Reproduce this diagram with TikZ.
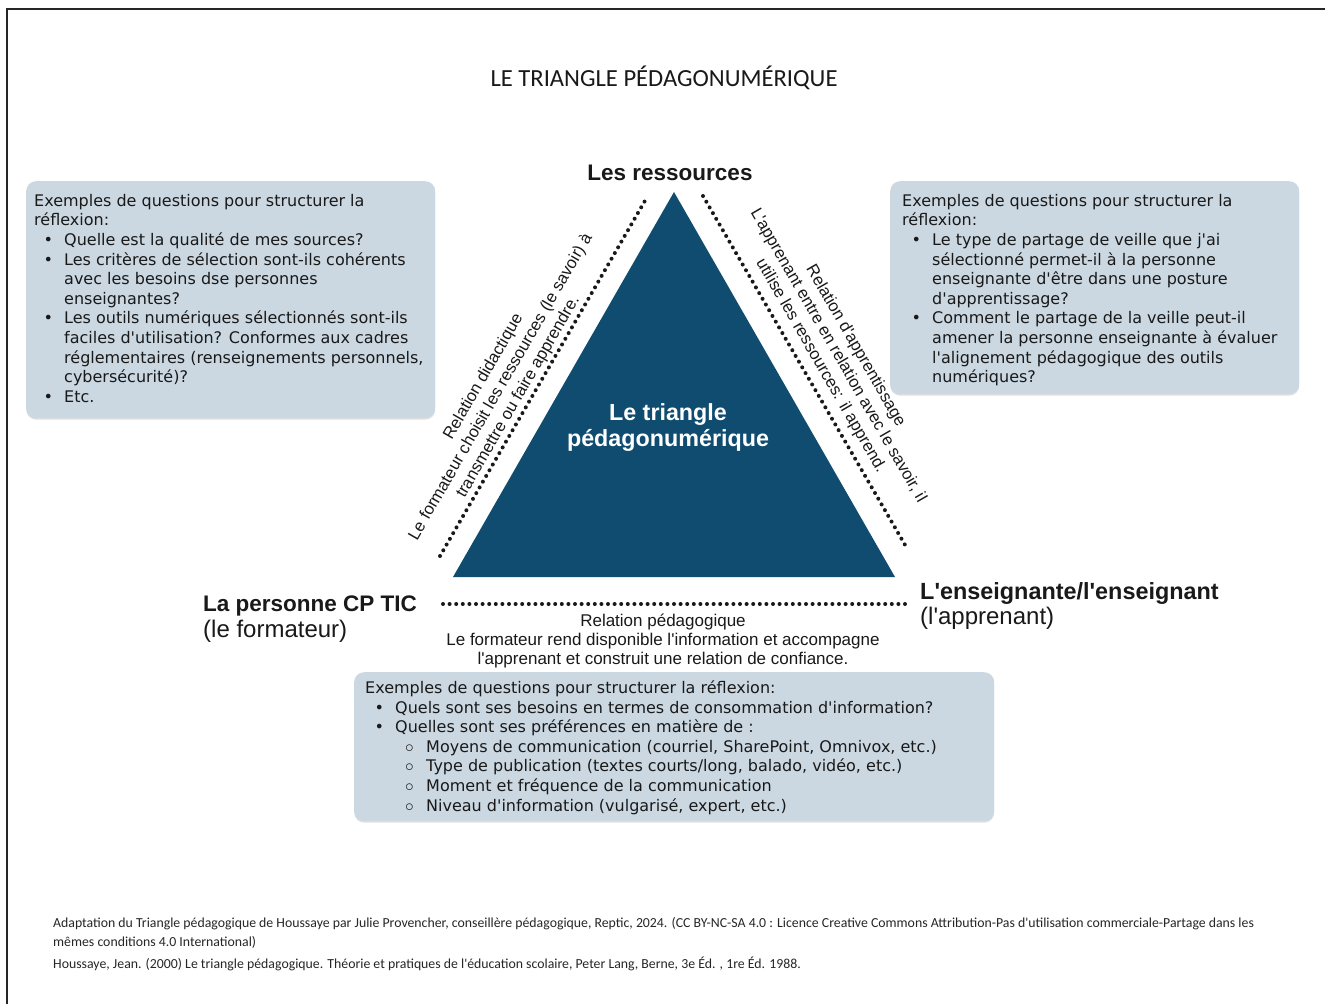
\documentclass[tikz,border=0pt]{standalone}
\usepackage{fontspec}
\setmainfont{Liberation Sans}
\newfontfamily\boxfont{DejaVu Sans}
\newfontfamily\titlefont{Carlito}
\usetikzlibrary{shadows}
\definecolor{boxfill}{RGB}{203,216,226}
\definecolor{tri}{RGB}{15,76,111}
\definecolor{ink}{RGB}{25,25,25}
\newcommand{\ap}{\textquotesingle}
\newcommand{\bul}{\hspace*{9.5pt}\makebox[20.5pt][l]{\textbullet}}
\newcommand{\ind}{\hspace*{30pt}}
\newcommand{\sbul}{\hspace*{40pt}\makebox[21pt][l]{$\circ$}}
\begin{document}
\begin{tikzpicture}[x=1pt,y=-1pt,
  every node/.style={inner sep=0pt, text=ink},
  qbox/.style={fill=boxfill, rounded corners=10pt, anchor=north west,
    drop shadow={shadow xshift=0pt, shadow yshift=-1.5pt, opacity=0.12, fill=black}},
  qtext/.style={anchor=north west, align=left, font=\boxfont\fontsize{16}{19.6}\selectfont},
  dots/.style={line width=4pt, line cap=round, dash pattern=on 0pt off 6.6pt, color=black!90},
  corner/.style={font=\bfseries\fontsize{22.5}{26}\selectfont},
  cornersub/.style={font=\fontsize{24}{26}\selectfont},
  sidetext/.style={align=center, font=\fontsize{16.7}{20}\selectfont},
  foot/.style={anchor=base west, font=\titlefont\fontsize{13.8}{15}\selectfont, text=black!85}
]
\useasboundingbox (0,0) rectangle (1325,1004);
\fill[white] (0,0) rectangle (1325,1004);
\draw[line width=1.6pt, color=black!85] (7,1004) -- (7,9) -- (1325,9);

% title
\node[font=\titlefont\fontsize{24.6}{28}\selectfont] (title) at (664,78) {LE TRIANGLE PÉDAGONUMÉRIQUE};

% question boxes
\node[qbox, minimum width=409pt, minimum height=237pt] (lbox) at (26,181) {};
\node[qbox, minimum width=409pt, minimum height=213pt] (rbox) at (890,181) {};
\node[qbox, minimum width=640pt, minimum height=149pt] (bbox) at (354,672) {};

\node[qtext] (ltxt) at (34,194) {Exemples de questions pour structurer la\\
réflexion:\\
\bul Quelle est la qualité de mes sources?\\
\bul Les critères de sélection sont-ils cohérents\\
\ind avec les besoins dse personnes\\
\ind enseignantes?\\
\bul Les outils numériques sélectionnés sont-ils\\
\ind faciles d\ap utilisation? Conformes aux cadres\\
\ind réglementaires (renseignements personnels,\\
\ind cybersécurité)?\\
\bul Etc.};

\node[qtext] (rtxt) at (902,194) {Exemples de questions pour structurer la\\
réflexion:\\
\bul Le type de partage de veille que j\ap ai\\
\ind sélectionné permet-il à la personne\\
\ind enseignante d\ap être dans une posture\\
\ind d\ap apprentissage?\\
\bul Comment le partage de la veille peut-il\\
\ind amener la personne enseignante à évaluer\\
\ind l\ap alignement pédagogique des outils\\
\ind numériques?};

\node[qtext] (btxt) at (365,680.5) {Exemples de questions pour structurer la réflexion:\\
\bul Quels sont ses besoins en termes de consommation d\ap information?\\
\bul Quelles sont ses préférences en matière de :\\
\sbul Moyens de communication (courriel, SharePoint, Omnivox, etc.)\\
\sbul Type de publication (textes courts/long, balado, vidéo, etc.)\\
\sbul Moment et fréquence de la communication\\
\sbul Niveau d\ap information (vulgarisé, expert, etc.)};

% triangle
\coordinate (A) at (674,192);
\coordinate (B) at (453,577);
\coordinate (C) at (895,577);
\fill[tri] (A) -- (B) -- (C) -- cycle;
\node[text=white, align=center, font=\bfseries\fontsize{23.3}{26}\selectfont] (ctr) at (668,428) {Le triangle\\pédagonumérique};

% corner labels
\node[corner, anchor=base] (res) at (670,180) {Les ressources};
\node[corner, anchor=base west] (cp) at (203,611) {La personne CP TIC};
\node[cornersub, anchor=base west] (cpsub) at (203,637) {(le formateur)};
\node[corner, anchor=base west, font=\bfseries\fontsize{23.4}{26}\selectfont] (ens) at (920,599) {L\ap enseignante/l\ap enseignant};
\node[cornersub, anchor=base west] (enssub) at (920,624) {(l\ap apprenant)};

% dotted relations
\coordinate (l1) at (440,556);
\coordinate (l2) at (646,199);
\coordinate (r1) at (703,196);
\coordinate (r2) at (908,550);
\coordinate (b1) at (443,604);
\coordinate (b2) at (906,604);
\draw[dots] (l1) -- (l2);
\draw[dots] (r1) -- (r2);
\draw[dots] (b1) -- (b2);

% relation texts
\node[sidetext, rotate=60] (ltext) at (501,387) {Relation didactique\\Le formateur choisit les ressources (le savoir) à\\transmettre ou faire apprendre.};
\node[sidetext, rotate=-60] (rtext) at (838,356) {Relation d\ap apprentissage\\L\ap apprenant entre en relation avec le savoir, il\\utilise les ressources: il apprend.};
\node[align=center, font=\fontsize{17}{19}\selectfont] (btext) at (663,641) {Relation pédagogique\\Le formateur rend disponible l\ap information et accompagne\\l\ap apprenant et construit une relation de confiance.};

% footer
\node[foot] (f1) at (53,927) {Adaptation du Triangle pédagogique de Houssaye par Julie Provencher, conseillère pédagogique, Reptic, 2024. (CC BY-NC-SA 4.0 : Licence Creative Commons Attribution-Pas d'utilisation commerciale-Partage dans les};
\node[foot] (f2) at (53,946) {mêmes conditions 4.0 International)};
\node[foot] (f3) at (53,968) {Houssaye, Jean. (2000) Le triangle pédagogique. Théorie et pratiques de l'éducation scolaire, Peter Lang, Berne, 3e Éd. , 1re Éd. 1988.};
\end{tikzpicture}
\end{document}
